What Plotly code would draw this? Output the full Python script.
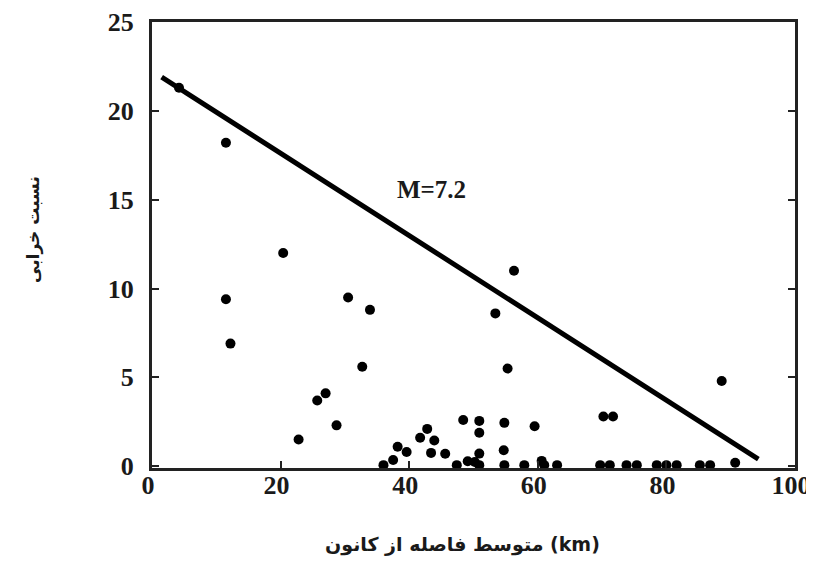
import plotly.graph_objects as go

# Scatter data: mean distance from epicentre (km) vs damage ratio
dist_km = [4.2, 11.5, 20.4, 11.5, 30.5, 33.9, 12.2, 32.7, 27.0, 25.7, 28.7, 22.8,
           42.8, 41.7, 43.9, 43.4, 38.2, 39.6, 37.5, 36.0, 45.6, 47.4, 48.4, 49.1,
           50.2, 50.9, 50.9, 50.9, 50.9, 54.8, 54.7, 54.8, 57.9, 59.5, 60.6, 61.0,
           63.0, 56.3, 53.4, 55.3, 88.6, 70.2, 71.7, 69.7, 71.2, 73.8, 75.4, 78.5,
           80.0, 81.6, 85.2, 86.8, 90.7]
damage_ratio = [21.3, 18.2, 12.0, 9.4, 9.5, 8.8, 6.9, 5.6, 4.1, 3.7, 2.3, 1.5,
                2.1, 1.6, 1.45, 0.75, 1.1, 0.8, 0.35, 0.06, 0.7, 0.06, 2.6, 0.28,
                0.24, 2.55, 1.88, 0.71, 0.06, 2.44, 0.9, 0.06, 0.06, 2.25, 0.3, 0.06,
                0.06, 11.0, 8.6, 5.5, 4.8, 2.8, 2.8, 0.06, 0.06, 0.06, 0.06, 0.06,
                0.06, 0.06, 0.06, 0.06, 0.2]

# Fitted envelope line (M=7.2)
line_x = [1.5, 94.3]
line_y = [21.9, 0.4]

x_ticks = [0, 20, 40, 60, 80, 100]
y_ticks = [0, 5, 10, 15, 20, 25]

label_text = "M=7.2"
x_title = "متوسط فاصله از کانون (km)"
y_title = "نسبت خرابی"

# The page body has an 8px default margin, so figure pixels sit 8px right/down.
OFF = 8
W, H = 814, 561
L, R, T, B = 152 - OFF, W - (795 - OFF), 22 - OFF, H - (468 - OFF)
PW, PH = W - L - R, H - T - B


def px_to_paper(px, py):
    fx, fy = px - OFF, py - OFF
    return (fx - L) / PW, (H - B - fy) / PH


fig = go.Figure()
fig.add_trace(go.Scatter(x=line_x, y=line_y, mode="lines",
                         line=dict(color="black", width=5), showlegend=False))
fig.add_trace(go.Scatter(x=dist_km, y=damage_ratio, mode="markers",
                         marker=dict(color="black", size=10), showlegend=False))

tickfont = dict(family="Liberation Serif", size=26, color="#1a1a1a")
fig.update_layout(
    width=W, height=H,
    margin=dict(l=L, r=R, t=T, b=B, autoexpand=False),
    paper_bgcolor="white", plot_bgcolor="white",
    font=dict(family="Liberation Serif", color="#1a1a1a"),
)
fig.update_xaxes(range=[0, 100], tickvals=x_ticks, ticktext=[f"<b>{v}</b>" for v in x_ticks],
                 tickfont=tickfont, showgrid=False, zeroline=False,
                 showline=True, linecolor="#222", linewidth=3, mirror=True,
                 ticks="inside", ticklen=7, tickwidth=2, tickcolor="#222",
                 ticklabelstandoff=-8, ticklabelshift=-4, ticklabeloverflow="allow",
                 automargin=False)
fig.update_yaxes(range=[-0.1, 25], tickvals=y_ticks, ticktext=[f"<b>{v}</b>" for v in y_ticks],
                 tickfont=tickfont, showgrid=False, zeroline=False,
                 showline=True, linecolor="#222", linewidth=3, mirror="ticks",
                 ticks="inside", ticklen=7, tickwidth=2, tickcolor="#222", ticklabelstandoff=10,
                 automargin=False)

fig.add_annotation(x=43.5, y=15.6, xref="x", yref="y", text=f"<b>{label_text}</b>",
                   showarrow=False, font=dict(family="Liberation Serif", size=25, color="#1a1a1a"))

xt_x, xt_y = px_to_paper(462, 544)
fig.add_annotation(x=xt_x, y=xt_y, xref="paper", yref="paper", text=f"<b>{x_title}</b>",
                   showarrow=False, xanchor="center", yanchor="middle",
                   font=dict(family="DejaVu Sans, Liberation Serif", size=19, color="#1a1a1a"))
yt_x, yt_y = px_to_paper(33, 230)
fig.add_annotation(x=yt_x, y=yt_y, xref="paper", yref="paper", text=f"<b>{y_title}</b>",
                   showarrow=False, textangle=-90, xanchor="center", yanchor="middle",
                   font=dict(family="DejaVu Sans", size=17, color="#1a1a1a"))

fig.write_html("out.html")
